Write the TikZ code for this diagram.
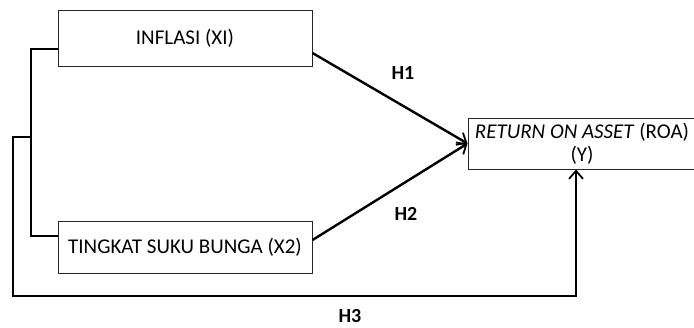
\documentclass[tikz,border=0pt]{standalone}
\usepackage{fontspec}
\setmainfont{Carlito}
\usetikzlibrary{arrows.meta}
\begin{document}
\begin{tikzpicture}[x=1pt,y=-1pt,
  varbox/.style={draw=black!85, line width=1pt, inner sep=0pt, font=\fontsize{21}{23}\selectfont},
  link/.style={line width=2.4pt, line join=miter},
  tip/.style={-{Straight Barb[length=8pt,width=14pt,line width=1.8pt]}},
  hyp/.style={inner sep=1pt, font=\bfseries\fontsize{20}{22}\selectfont}]
\useasboundingbox (0,0) rectangle (694,327);
\fill[white] (0,0) rectangle (694,327);

% variables
\node[varbox, minimum width=254pt, minimum height=56pt] (x1) at (185,38) {INFLASI (XI)};
\node[varbox, minimum width=254pt, minimum height=52pt] (x2) at (185,247) {TINGKAT SUKU BUNGA (X2)};
\node[varbox, minimum width=228pt, minimum height=51pt, align=center] (y) at (582,143.5)
  {\textit{RETURN ON ASSET} (ROA)\\(Y)};

% bracket joining the two independent variables
\coordinate (j) at (31,137);
\coordinate (c1) at (13,296);
\draw[link] ([yshift=-11pt]x1.west) -| (j) |- ([yshift=11pt]x2.west);

% partial effects
\draw[link, tip] ([yshift=-15pt]x1.east) -- (y.west);
\draw[link, tip] ([yshift=7pt]x2.east) -- (y.west);

% simultaneous effect
\draw[line width=1.8pt, tip] (j) -| (c1) -| ([xshift=-6pt]y.south);

% hypothesis labels
\node[hyp] (h1) at (403,73) {H1};
\node[hyp] (h2) at (406,214) {H2};
\node[hyp] (h3) at (350,316.5) {H3};
\end{tikzpicture}
\end{document}
